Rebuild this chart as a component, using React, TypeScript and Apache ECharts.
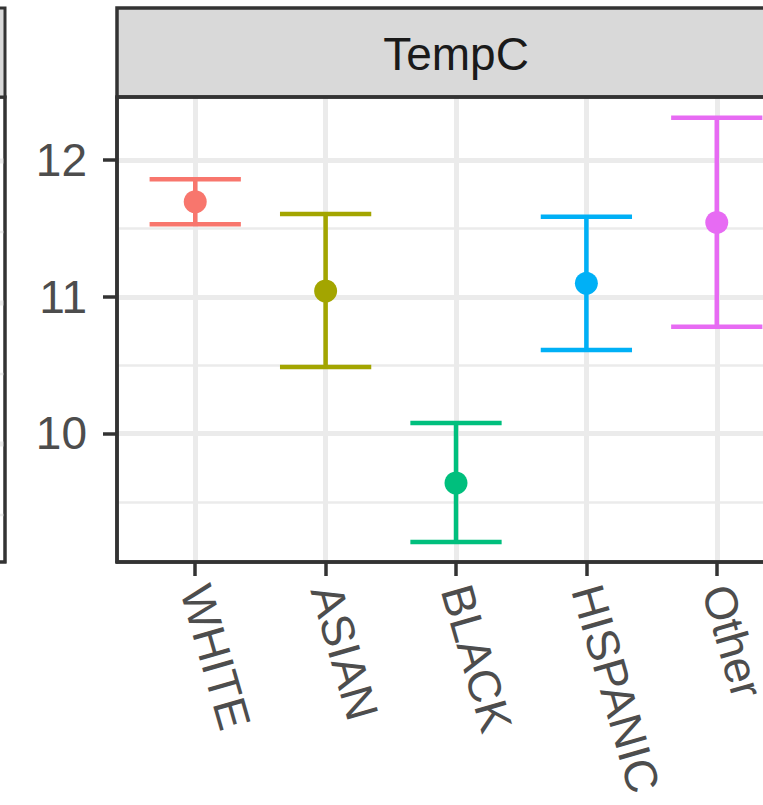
import { useEffect, useRef } from "react";
import * as echarts from "echarts";

const categories = ["WHITE", "ASIAN", "BLACK", "HISPANIC", "Other"];
const means = [11.695, 11.042, 9.638, 11.098, 11.544];
const lowers = [11.53, 10.486, 9.207, 10.611, 10.781];
const uppers = [11.859, 11.605, 10.077, 11.585, 12.309];
const colors = ["#F8766D", "#A3A500", "#00BF7D", "#00B0F6", "#E76BF3"];
const yTicks = [10, 11, 12];
const yMinor = [9.5, 10.5, 11.5];
const xTicks = [0, 1, 2, 3, 4];
const stripLabel = "TempC";
// neighbouring (cut-off) panel's gridlines, pixel rows
const leftMajorRows = [161, 303, 444];
const leftMinorRows = [232, 374, 515];

const FONT = "Liberation Sans, Arial, Helvetica, sans-serif";
const FS = 46;
const BORDER = "#333333";
const GRID = "#EBEBEB";

export default function App() {
  const ref = useRef<HTMLDivElement>(null);
  useEffect(() => {
    document.body.style.margin = "0";
    const chart = echarts.init(ref.current!, null, { renderer: "svg" });
    const P = { left: 117, top: 97, width: 678, height: 465 };
    const graphics: any[] = [];
    // left cut-off panel
    graphics.push({
      type: "rect",
      shape: { x: -40, y: P.top, width: 45, height: P.height },
      style: { fill: "#fff", stroke: BORDER, lineWidth: 3 },
      z: 1,
    });
    leftMajorRows.forEach((y) =>
      graphics.push({ type: "line", shape: { x1: -40, y1: y, x2: 4, y2: y }, style: { stroke: GRID, lineWidth: 5 }, z: 2 })
    );
    leftMinorRows.forEach((y) =>
      graphics.push({ type: "line", shape: { x1: -40, y1: y, x2: 4, y2: y }, style: { stroke: GRID, lineWidth: 2.5 }, z: 2 })
    );
    graphics.push({
      type: "rect",
      shape: { x: -40, y: P.top, width: 45, height: P.height },
      style: { fill: "none", stroke: BORDER, lineWidth: 3 },
      z: 3,
    });
    graphics.push({
      type: "rect",
      shape: { x: -40, y: 8, width: 45, height: P.top - 8 },
      style: { fill: "#D9D9D9", stroke: BORDER, lineWidth: 3 },
      z: 3,
    });
    // main strip
    graphics.push({
      type: "rect",
      shape: { x: P.left, y: 8, width: P.width, height: P.top - 8 },
      style: { fill: "#D9D9D9", stroke: BORDER, lineWidth: 3.5 },
      z: 50,
    });
    graphics.push({
      type: "text",
      x: P.left + P.width / 2,
      y: (8 + P.top) / 2 + 1,
      style: { text: stripLabel, fill: "#1A1A1A", font: `${FS}px ${FONT}`, textAlign: "center", textVerticalAlign: "middle" },
      z: 51,
    });
    // main panel border on top
    graphics.push({
      type: "rect",
      shape: { x: P.left, y: P.top, width: P.width, height: P.height },
      style: { fill: "none", stroke: BORDER, lineWidth: 3.5 },
      z: 100,
    });

    chart.setOption({
      animation: false,
      backgroundColor: "#fff",
      grid: {
        left: P.left,
        top: P.top,
        width: P.width,
        height: P.height,
        containLabel: false,
        outerBoundsMode: "none",
      },
      xAxis: {
        type: "value",
        min: -0.6,
        max: 4.6,
        axisLine: { show: true, onZero: false, lineStyle: { color: BORDER, width: 3.5 } },
        axisTick: { show: true, length: 14, customValues: xTicks, lineStyle: { color: BORDER, width: 3.5 } },
        axisLabel: {
          show: true,
          customValues: xTicks,
          rotate: -74,
          margin: 24,
          fontSize: FS,
          fontFamily: FONT,
          color: "#4D4D4D",
          formatter: (v: number) => categories[Math.round(v)] ?? "",
        },
        splitLine: { show: true, lineStyle: { color: GRID, width: 5 } },
      },
      yAxis: [
        {
          type: "value",
          min: 9.06,
          max: 12.461,
          axisLine: { show: true, onZero: false, lineStyle: { color: BORDER, width: 3.5 } },
          axisTick: { show: true, length: 14, customValues: yTicks, lineStyle: { color: BORDER, width: 3.5 } },
          axisLabel: {
            show: true,
            customValues: yTicks,
            margin: 30,
            fontSize: FS,
            fontFamily: FONT,
            color: "#4D4D4D",
          },
          splitLine: { show: true, lineStyle: { color: GRID, width: 5 } },
          z: 2,
        },
        {
          type: "value",
          min: 9.06,
          max: 12.461,
          position: "left",
          axisLine: { show: false },
          axisTick: { show: false, customValues: yMinor },
          axisLabel: { show: false, customValues: yMinor },
          splitLine: { show: true, lineStyle: { color: GRID, width: 2.5 } },
          z: 1,
        },
      ],
      series: [
        {
          type: "custom",
          xAxisIndex: 0,
          yAxisIndex: 0,
          data: categories.map((_, i) => [i, lowers[i], uppers[i]]),
          encode: { x: 0, y: [1, 2] },
          z: 5,
          renderItem: (_params: any, api: any) => {
            const i = api.value(0);
            const lo = api.coord([i, api.value(1)]);
            const hi = api.coord([i, api.value(2)]);
            const half = api.size([0.35, 0])[0];
            const style = { stroke: colors[i], lineWidth: 4.5, fill: "none" };
            return {
              type: "group",
              children: [
                { type: "line", shape: { x1: lo[0], y1: lo[1], x2: hi[0], y2: hi[1] }, style },
                { type: "line", shape: { x1: hi[0] - half, y1: hi[1], x2: hi[0] + half, y2: hi[1] }, style },
                { type: "line", shape: { x1: lo[0] - half, y1: lo[1], x2: lo[0] + half, y2: lo[1] }, style },
              ],
            };
          },
        },
        {
          type: "scatter",
          xAxisIndex: 0,
          yAxisIndex: 0,
          z: 6,
          symbol: "circle",
          symbolSize: 23,
          data: categories.map((_, i) => [i, means[i]]),
          itemStyle: { color: (p: any) => colors[p.dataIndex], opacity: 1 },
        },
      ],
      graphic: graphics,
    });
    return () => chart.dispose();
  }, []);
  return <div ref={ref} style={{ position: "fixed", left: 0, top: 0, width: 763, height: 805 }} />;
}
